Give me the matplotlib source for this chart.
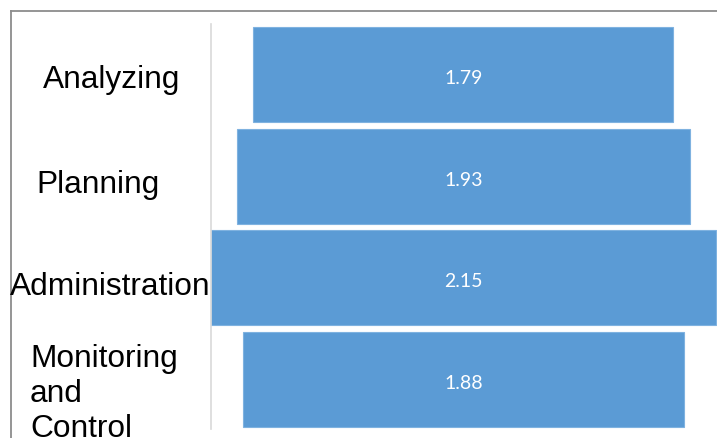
import matplotlib
matplotlib.use("Agg")
import matplotlib.pyplot as plt
from matplotlib.lines import Line2D

categories = ["Analyzing", "Planning", "Administration", "Monitoring\nand\nControl"]
values = [1.79, 1.93, 2.15, 1.88]
value_labels = ["1.79", "1.93", "2.15", "1.88"]

W, H = 717, 439
fig = plt.figure(figsize=(W / 100, H / 100), dpi=100)
fig.patch.set_facecolor("white")

def fx(px):
    return px / W

def fy(py):
    return 1 - py / H

ax = fig.add_axes([fx(211), fy(430), fx(717) - fx(211), fy(25) - fy(430)])
ypos = list(range(len(values)))
ax.barh(ypos, values, left=[-v / 2 for v in values], height=0.935,
        color="#5B9BD5", edgecolor="#7FB2E0", linewidth=0.8)
for y, lab in zip(ypos, value_labels):
    ax.text(0, y + 0.03, lab, ha="center", va="center", color="white",
            fontsize=14, family=["Lato", "DejaVu Sans"])
ax.set_xlim(-1.076, 1.081)
ax.set_ylim(3.49, -0.4975)
ax.set_xticks([])
ax.set_yticks([])
for s in ["top", "right", "bottom"]:
    ax.spines[s].set_visible(False)
ax.spines["left"].set_color("#d9d9d9")
ax.spines["left"].set_linewidth(1.2)

# category labels (each line placed at its baseline)
label_x = [43, 36, 10, 30]
label_baseline = [88, 193, 295, 367]
line_step = 35
for lab, x, yb in zip(categories, label_x, label_baseline):
    for i, line in enumerate(lab.split("\n")):
        fig.text(fx(x), fy(yb + i * line_step), line, ha="left", va="baseline",
                 fontsize=22.8, family=["Liberation Sans", "DejaVu Sans"],
                 color="black")

# outer frame
fig.add_artist(Line2D([fx(11), 1.0], [fy(12), fy(12)], color="#8c8c8c", lw=1.3))
fig.add_artist(Line2D([fx(11), fx(11)], [fy(12), 0.0], color="#8c8c8c", lw=1.3))

fig.savefig("out.png", dpi=100)
